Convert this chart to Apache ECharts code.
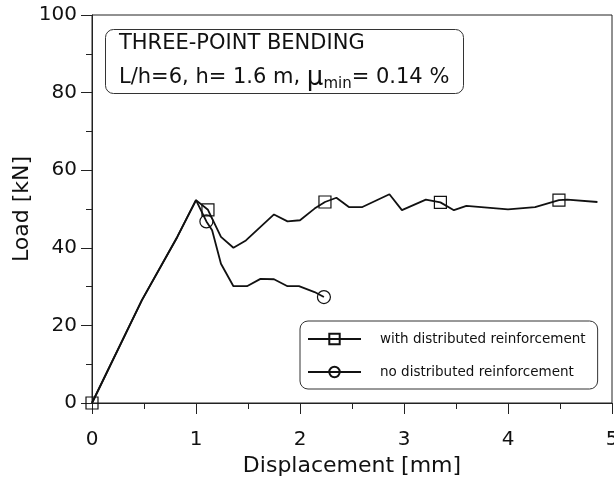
<!DOCTYPE html>
<html>
<head>
<meta charset="utf-8">
<script src="https://cdn.jsdelivr.net/npm/echarts@6/dist/echarts.min.js"></script>
<style>
  html, body { margin: 0; padding: 0; background: #fff; }
  #main { width: 614px; height: 477px; }
</style>
</head>
<body>
<div id="main"></div>
<script>
// load-displacement curves
var withX = [0, 0.48, 0.82, 1.0, 1.115, 1.24, 1.36, 1.48, 1.75, 1.88, 2.0, 2.14, 2.24, 2.35, 2.47, 2.6, 2.86, 2.98, 3.21, 3.35, 3.48, 3.6, 4.0, 4.26, 4.49, 4.57, 4.86];
var withY = [0, 26.5, 42.8, 52.3, 49.8, 42.8, 40.0, 41.9, 48.6, 46.8, 47.1, 50.1, 51.8, 52.9, 50.5, 50.5, 53.8, 49.7, 52.4, 51.7, 49.7, 50.8, 49.9, 50.5, 52.3, 52.4, 51.8];
var withMarks = [0, 4, 12, 19, 24];   // indices that carry a square

var noX = [0, 0.48, 0.82, 1.0, 1.1, 1.155, 1.24, 1.36, 1.49, 1.62, 1.75, 1.88, 1.99, 2.14, 2.23];
var noY = [0, 26.5, 42.8, 52.3, 46.8, 44.5, 35.9, 30.1, 30.1, 32.0, 31.9, 30.1, 30.1, 28.6, 27.3];
var noMarks = [4, 14];                 // indices that carry a circle

var seriesNames = ['with distributed reinforcement', 'no distributed reinforcement'];
var xTicks = [0, 1, 2, 3, 4, 5];
var yTicks = [0, 20, 40, 60, 80, 100];

var FONT = 'DejaVu Sans, sans-serif';
var INK = '#111';

function buildData(xs, ys, marks) {
  var out = [];
  for (var i = 0; i < xs.length; i++) {
    var item = { value: [xs[i], ys[i]] };
    if (marks.indexOf(i) < 0) {
      item.symbol = 'none';
    }
    out.push(item);
  }
  return out;
}

function txt(size, extra) {
  var s = { fontFamily: FONT, fontSize: size, fontWeight: 'normal', color: INK };
  for (var k in extra) s[k] = extra[k];
  return s;
}

var chart = echarts.init(document.getElementById('main'), null, { renderer: 'canvas' });

var option = {
  animation: false,
  backgroundColor: '#fff',
  title: {
    left: 105,
    top: 23,
    padding: [4, 14, 2, 14],
    borderColor: '#333',
    borderWidth: 1,
    borderRadius: 8,
    text: '{a|THREE-POINT BENDING}\n{b|L/h=6, h= 1.6 m, }{mu|\u03bc}{sub|min}{b|= 0.14 %}',
    textStyle: {
      fontWeight: 'normal',
      rich: {
        a: txt(21, { lineHeight: 33 }),
        b: txt(21, { lineHeight: 36 }),
        mu: txt(26, { lineHeight: 36 }),
        sub: txt(15, { padding: [12, 0, 0, 0] })
      }
    }
  },
  legend: {
    left: 300,
    top: 321,
    orient: 'vertical',
    padding: [11, 12, 10, 7],
    itemWidth: 53,
    itemHeight: 13,
    itemGap: 19,
    borderColor: '#333',
    borderWidth: 1,
    borderRadius: 8,
    textStyle: txt(13.5, { padding: [0, 0, 0, 14] }),
    data: seriesNames
  },
  grid: {
    left: 92,
    right: 2,
    top: 15,
    bottom: 74,
    outerBoundsMode: 'none',
    show: true,
    borderColor: '#222',
    borderWidth: 1
  },
  xAxis: {
    type: 'value',
    min: xTicks[0],
    max: xTicks[xTicks.length - 1],
    interval: 1,
    name: 'Displacement [mm]',
    nameLocation: 'middle',
    nameGap: 52,
    nameMoveOverlap: false,
    nameTextStyle: txt(22),
    axisLine: { show: true, lineStyle: { color: '#222', width: 1 } },
    axisTick: { show: true, length: 11, lineStyle: { color: '#222' } },
    minorTick: { show: true, splitNumber: 2, length: 6, lineStyle: { color: '#222' } },
    splitLine: { show: false },
    axisLabel: txt(20, { margin: 27 })
  },
  yAxis: {
    type: 'value',
    min: yTicks[0],
    max: yTicks[yTicks.length - 1],
    interval: 20,
    name: 'Load [kN]',
    nameLocation: 'middle',
    nameGap: 59,
    nameMoveOverlap: false,
    nameTextStyle: txt(22),
    axisLine: { show: true, lineStyle: { color: '#222', width: 1 } },
    axisTick: { show: true, length: 11, lineStyle: { color: '#222' } },
    minorTick: { show: true, splitNumber: 2, length: 6, lineStyle: { color: '#222' } },
    splitLine: { show: false },
    axisLabel: txt(20, { margin: 15 })
  },
  series: [
    {
      name: seriesNames[0],
      type: 'line',
      symbol: 'rect',
      symbolSize: 12,
      showSymbol: true,
      data: buildData(withX, withY, withMarks),
      lineStyle: { color: INK, width: 1.8 },
      itemStyle: { color: 'rgba(0,0,0,0)', borderColor: INK, borderWidth: 1.2 },
      z: 3
    },
    {
      name: seriesNames[1],
      type: 'line',
      symbol: 'circle',
      symbolSize: 13,
      showSymbol: true,
      data: buildData(noX, noY, noMarks),
      lineStyle: { color: INK, width: 1.8 },
      itemStyle: { color: 'rgba(0,0,0,0)', borderColor: INK, borderWidth: 1.2 },
      z: 2
    }
  ]
};

chart.setOption(option);
</script>
</body>
</html>
